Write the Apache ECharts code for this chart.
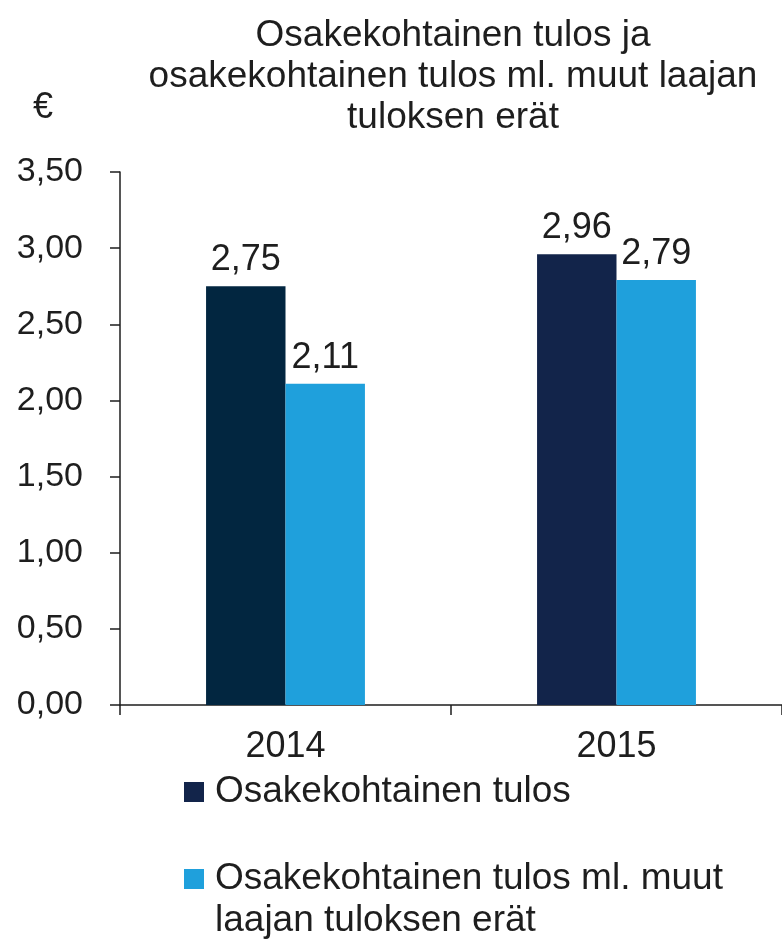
<!DOCTYPE html>
<html>
<head>
<meta charset="utf-8">
<script src="https://cdn.jsdelivr.net/npm/echarts@6/dist/echarts.min.js"></script>
<style>
  html, body { margin: 0; padding: 0; background: #fff; }
  #main { width: 782px; height: 942px; }
</style>
</head>
<body>
<div id="main"></div>
<script>
// data
var years = ['2014', '2015'];
var seriesNames = ['Osakekohtainen tulos', 'Osakekohtainen tulos ml. muut\nlaajan tuloksen erät'];
var epsValues = [2.75, 2.96];
var epsComprehensiveValues = [2.11, 2.79];
var yTicks = [0, 0.5, 1, 1.5, 2, 2.5, 3, 3.5];

var font = "'Liberation Sans', Arial, sans-serif";
var textColor = '#1e1e1e';
var fs = 36;

var myChart = echarts.init(document.getElementById('main'));

function fmt(v) {
    return v.toFixed(2).replace('.', ',');
}

var barLabel = {
    show: true,
    position: 'top',
    distance: 8,
    fontFamily: font,
    fontSize: fs,
    color: textColor,
    formatter: function (p) { return fmt(p.value); }
};

var legendText = {
    fontFamily: font,
    fontSize: 37,
    lineHeight: 42,
    color: textColor,
    padding: [0, 0, 0, 6]
};

option = {
    backgroundColor: '#ffffff',
    animation: false,
    textStyle: { fontFamily: font, color: textColor },
    title: [
        {
            text: 'Osakekohtainen tulos ja\nosakekohtainen tulos ml. muut laajan\ntuloksen erät',
            left: 448,
            textAlign: 'center',
            top: 10,
            textStyle: {
                fontFamily: font,
                fontWeight: 'normal',
                fontSize: 37,
                lineHeight: 41,
                color: textColor
            }
        },
        {
            text: '€',
            left: 28,
            top: 85,
            textStyle: {
                fontFamily: font,
                fontWeight: 'normal',
                fontSize: fs,
                color: textColor
            }
        }
    ],
    legend: [
        {
            orient: 'vertical',
            left: 184,
            top: 771,
            height: 60,
            padding: 0,
            itemWidth: 20,
            itemHeight: 20,
            icon: 'rect',
            textStyle: legendText,
            data: [seriesNames[0]]
        },
        {
            orient: 'vertical',
            left: 184,
            top: 816,
            height: 140,
            padding: 0,
            itemWidth: 20,
            itemHeight: 20,
            icon: 'rect',
            textStyle: legendText,
            // leading blank line keeps the swatch level with the first text line
            formatter: function (name) { return '\n' + name; },
            data: [seriesNames[1]]
        }
    ],
    grid: {
        left: 120,
        right: 0,
        top: 172,
        bottom: 237,
        containLabel: false
    },
    xAxis: {
        type: 'category',
        data: years,
        axisLine: { lineStyle: { color: '#1e1e1e', width: 1.5 } },
        axisTick: { show: true, length: 10, lineStyle: { color: '#1e1e1e', width: 1.5 } },
        axisLabel: {
            fontFamily: font,
            fontSize: fs,
            color: textColor,
            margin: 24
        }
    },
    yAxis: {
        type: 'value',
        min: yTicks[0],
        max: yTicks[yTicks.length - 1],
        interval: 0.5,
        splitLine: { show: false },
        axisLine: { show: true, lineStyle: { color: '#1e1e1e', width: 1.5 } },
        axisTick: { show: true, inside: false, length: 10, lineStyle: { color: '#1e1e1e', width: 1.5 } },
        axisLabel: {
            fontFamily: font,
            fontSize: 34,
            color: textColor,
            margin: 37,
            formatter: function (v) { return fmt(v); }
        }
    },
    series: [
        {
            name: seriesNames[0],
            type: 'bar',
            barGap: '0%',
            barCategoryGap: '52%',
            itemStyle: { color: '#12244a' },
            data: epsValues.map(function (v, i) {
                return i === 0 ? { value: v, itemStyle: { color: '#022640' } } : v;
            }),
            label: barLabel
        },
        {
            name: seriesNames[1],
            type: 'bar',
            barGap: '0%',
            barCategoryGap: '52%',
            itemStyle: { color: '#1fa0dc' },
            data: epsComprehensiveValues,
            label: barLabel
        }
    ]
};

myChart.setOption(option);
</script>
</body>
</html>
